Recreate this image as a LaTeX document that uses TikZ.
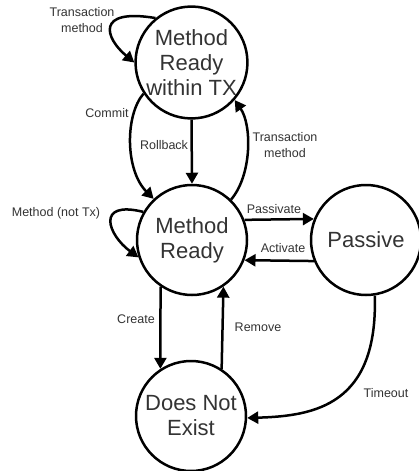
\documentclass[tikz,border=0pt]{standalone}
\usepackage{fontspec}
\setmainfont{Liberation Sans}
\usetikzlibrary{arrows.meta}

\tikzset{
  state/.style={circle, draw=black, line width=2.5pt, minimum size=110pt,
    inner sep=0pt, align=center, text=black!80,
    font=\fontsize{22pt}{25pt}\selectfont},
  lbl/.style={text=black!80, align=center, inner sep=0pt,
    font=\fontsize{12.5pt}{16pt}\selectfont},
  trans/.style={line width=2.5pt, -{Triangle[length=11pt,width=12pt]}},
}

\begin{document}
\begin{tikzpicture}[x=1pt,y=-1pt]
\useasboundingbox (0,0) rectangle (419,471);

% states
\node[state] (tx)  at (191.5,62.5) {Method\\Ready\\within TX};
\node[state] (rdy) at (192,240) {Method\\Ready};
\node[state] (pas) at (366,240) {Passive};
\node[state] (dne) at (191,416) {Does Not\\Exist};

% labels
\node[lbl] (ltm1) at (82,20)   {Transaction\\method};
\node[lbl] (lcom) at (107,113) {Commit};
\node[lbl] (lrol) at (164,145) {Rollback};
\node[lbl] (ltm2) at (285,145) {Transaction\\method};
\node[lbl] (lnot) at (56,213)  {Method (not Tx)};
\node[lbl] (lpsv) at (274,209) {Passivate};
\node[lbl] (lact) at (283,248) {Activate};
\node[lbl] (lcre) at (136,319) {Create};
\node[lbl] (lrem) at (258,327) {Remove};
\node[lbl] (ltim) at (386,393) {Timeout};

% transitions
\draw[trans] (tx.129) .. controls (95,8) and (105,38) .. (tx.180);
\draw[trans] (tx.213) .. controls (125,115) and (125,170) .. (rdy.133);
\draw[trans] (tx.270) -- (rdy.90);
\draw[trans] (rdy.46) .. controls (252,175) and (252,125) .. (tx.319);
\draw[trans] (rdy.150) .. controls (95,200) and (108,235) .. (rdy.198);
\draw[trans] (rdy.21) -- (pas.158);
\draw[trans] (pas.202) -- (rdy.339);
\draw[trans] (rdy.236) -- (dne.123);
\draw[trans] (dne.57) -- (rdy.304);
\draw[trans] (pas.279) .. controls (378,405) and (315,416) .. (dne.358);
\end{tikzpicture}
\end{document}
